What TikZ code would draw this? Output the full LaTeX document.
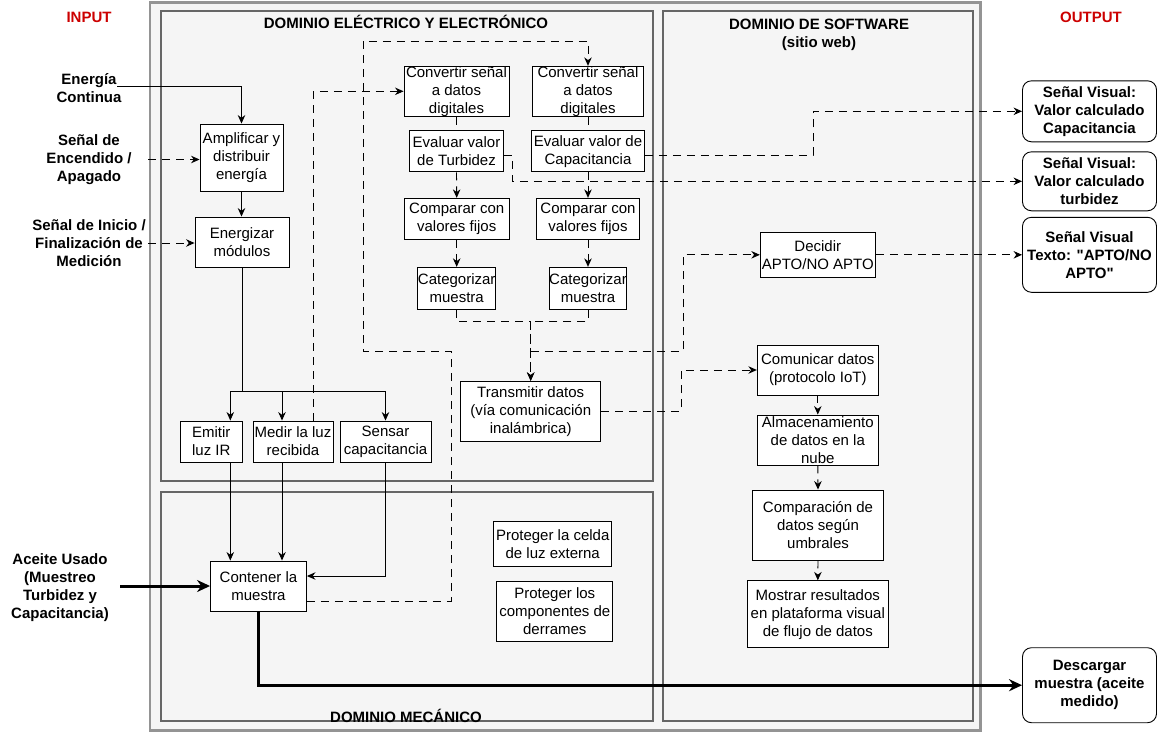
\documentclass[tikz,border=0pt]{standalone}
\usepackage{fontspec}
\setmainfont{Liberation Sans}[Ligatures=TeXOff]
\usetikzlibrary{arrows.meta}
\definecolor{inred}{RGB}{204,0,0}
\definecolor{panel}{RGB}{245,245,245}
\begin{document}
\begin{tikzpicture}[x=1pt,y=-1pt,
  every node/.style={font=\fontsize{15}{18}\selectfont, inner sep=0pt, align=center},
  blk/.style={draw=black, fill=white, line width=0.9pt, rectangle},
  obox/.style={draw=black, fill=white, line width=0.9pt, rounded corners=9pt,
    font=\fontsize{15}{18}\selectfont\bfseries},
  lbl/.style={font=\fontsize{15}{18}\selectfont\bfseries},
  ttl/.style={font=\fontsize{15}{18}\selectfont\bfseries},
  arr/.style={-{Stealth[length=8.5pt,width=7.5pt]}},
  conn/.style={line width=0.9pt, draw=black},
  dsh/.style={conn, dash pattern=on 8pt off 6pt},
  heavy/.style={line width=3pt, draw=black, -{Stealth[length=13pt,width=12pt]}},
  zone/.style={draw=black!60, fill=panel, line width=2pt},
]
\useasboundingbox (0,0) rectangle (1157,732);

% frames of the system and its three domains
\draw[draw=black!42, fill=panel, line width=2.5pt] (150,2.5) rectangle (980.5,730.5);
\draw[zone] (160.7,11) rectangle (652.7,481);
\draw[zone] (160.7,492) rectangle (652.7,720.5);
\draw[zone] (662.7,11) rectangle (973,720.5);

% headings
\node[ttl, text=inred] (tin) at (89,17) {INPUT};
\node[ttl, text=inred] (tout) at (1091,17) {OUTPUT};
\node[ttl] (tele) at (406,22) {DOMINIO ELÉCTRICO Y ELECTRÓNICO};
\node[ttl] (tsof) at (819,34.5) {DOMINIO DE SOFTWARE\\(sitio web)};
\node[ttl] (tmec) at (406,716) {DOMINIO MECÁNICO};

% inputs
\node[lbl] (ein) at (89,88) {Energía\\Continua};
\coordinate (ecn) at (117,86);
\node[lbl, minimum width=118pt] (enc) at (89,159.5) {Señal de\\Encendido /\\Apagado};
\node[lbl, minimum width=118pt] (ini) at (89,243) {Señal de Inicio /\\Finalización de\\Medición};
\node[lbl, minimum width=120pt] (ace) at (60,588) {Aceite Usado\\(Muestreo\\Turbidez y\\Capacitancia)};

% electrical and electronic domain
\node[blk, minimum width=83pt, minimum height=67pt] (amp) at (241.5,157.5) {Amplificar y\\distribuir\\energía};
\node[blk, minimum width=94pt, minimum height=50pt] (ene) at (242,242) {Energizar\\módulos};
\node[blk, minimum width=62pt, minimum height=41pt] (emi) at (211.3,441.5) {Emitir\\luz IR};
\node[blk, minimum width=80pt, minimum height=41pt] (med) at (293,441.5) {Medir la luz\\recibida};
\node[blk, minimum width=91pt, minimum height=41pt] (sen) at (385.5,441.5) {Sensar\\capacitancia};
\node[blk, minimum width=105pt, minimum height=50pt] (cv1) at (456.5,91.3) {Convertir señal\\a datos\\digitales};
\node[blk, minimum width=111pt, minimum height=50pt] (cv2) at (588,91.3) {Convertir señal\\a datos\\digitales};
\node[blk, minimum width=94pt, minimum height=41pt] (evt) at (456.5,151.3) {Evaluar valor\\de Turbidez};
\node[blk, minimum width=113pt, minimum height=41pt] (evc) at (588,151.3) {Evaluar valor de\\Capacitancia};
\node[blk, minimum width=105pt, minimum height=41pt] (cp1) at (456.7,218.8) {Comparar con\\valores fijos};
\node[blk, minimum width=103pt, minimum height=41pt] (cp2) at (588,218.8) {Comparar con\\valores fijos};
\node[blk, minimum width=75pt, minimum height=42pt] (ct1) at (456.7,288.3) {Categorizar\\muestra};
\node[blk, minimum width=75pt, minimum height=42pt] (ct2) at (588,288.3) {Categorizar\\muestra};
\node[blk, minimum width=140pt, minimum height=60pt] (tra) at (530.7,411.3) {Transmitir datos\\(vía comunicación\\inalámbrica)};

% mechanical domain
\node[blk, minimum width=96pt, minimum height=50pt] (con) at (258.5,586) {Contener la\\muestra};
\node[blk, minimum width=118pt, minimum height=45pt] (pr1) at (552.7,544) {Proteger la celda\\de luz externa};
\node[blk, minimum width=116pt, minimum height=60pt] (pr2) at (554.8,611.5) {Proteger los\\componentes de\\derrames};

% software domain
\node[blk, minimum width=115pt, minimum height=45pt] (dec) at (817.8,254.8) {Decidir\\APTO/NO APTO};
\node[blk, minimum width=121pt, minimum height=50pt] (com) at (817.8,370) {Comunicar datos\\(protocolo IoT)};
\node[blk, minimum width=121pt, minimum height=50pt] (alm) at (817.8,440) {Almacenamiento\\de datos en la\\nube};
\node[blk, minimum width=131pt, minimum height=70pt] (cmd) at (818,525) {Comparación de\\datos según\\umbrales};
\node[blk, minimum width=141pt, minimum height=67pt] (mos) at (817.8,614.3) {Mostrar resultados\\en plataforma visual\\de flujo de datos};

% outputs
\node[obox, minimum width=134pt, minimum height=61pt] (o1) at (1089.5,111.3) {Señal Visual:\\Valor calculado\\Capacitancia};
\node[obox, minimum width=134pt, minimum height=59pt] (o2) at (1089.5,181.3) {Señal Visual:\\Valor calculado\\turbidez};
\node[obox, minimum width=134pt, minimum height=75pt] (o3) at (1089.5,254.8) {Señal Visual\\Texto: "APTO/NO\\APTO"};
\node[obox, minimum width=134pt, minimum height=75pt] (o4) at (1089.5,685.2) {Descargar\\muestra (aceite\\medido)};

% energy and control inputs
\draw[conn,arr] (ecn) -| (amp.north);
\draw[dsh,arr] (enc.east) -- (amp.west |- enc.east);
\draw[dsh,arr] (ini.east) -- (ene.west |- ini.east);
\draw[conn,arr] (amp.south) -- (amp.south |- ene.north);

% power distribution to the sensing blocks
\coordinate (jn) at (242,391);
\draw[conn] (ene.south) -- (jn);
\draw[conn,arr] (jn) -| ([xshift=19pt]emi.north);
\draw[conn,arr] (jn) -| ([xshift=-11pt]med.north);
\draw[conn,arr] (jn) -| (sen.north);

% sensing blocks acting on the sample
\draw[conn,arr] ([xshift=19pt]emi.south) -- ([xshift=19pt]emi.south |- con.north);
\draw[conn,arr] ([xshift=-11pt]med.south) -- ([xshift=-11pt]med.south |- con.north);
\draw[conn,arr] (sen.south) |- ([yshift=10pt]con.east);

% signal paths into the converters
\draw[dsh,arr] ([xshift=20pt]med.north) |- (cv1.west);
\draw[dsh,arr] ([yshift=-15pt]con.east) -- (451,601) -- (451,351) -- (363,351) -- (363,41) -| (cv2.north);

% turbidity and capacitance chains
\draw[dsh] (cv1.south) -- (evt.north);
\draw[dsh,arr] (evt.south) -- (cp1.north);
\draw[dsh,arr] (cp1.south) -- (ct1.north);
\draw[dsh] (cv2.south) -- (evc.north);
\draw[dsh,arr] (evc.south) -- (cp2.north);
\draw[dsh,arr] (cp2.south) -- (ct2.north);

% categories to transmission and decision
\draw[dsh,arr] (ct1.south) -- (456.7,321) -| (tra.north);
\draw[dsh,arr] (ct2.south) -- (588,321) -| (tra.north);
\draw[dsh,arr] (530.7,351) -- (683,351) |- (dec.west);

% values to the visual outputs
\draw[dsh,arr] ([yshift=-4pt]evc.east) -- (813,155.3) |- (o1.west);
\draw[dsh,arr] ([yshift=-4pt]evt.east) -- (512,155.3) |- (o2.west);
\draw[dsh,arr] (dec.east) -- (o3.west);

% wireless link and cloud chain
\draw[dsh,arr] (tra.east) -- (681,411.3) |- (com.west);
\draw[dsh,arr] (com.south) -- (alm.north);
\draw[dsh,arr] (alm.south) -- (cmd.north);
\draw[dsh,arr] (cmd.south) -- (mos.north);

% oil flow in and out
\draw[heavy] (ace.east |- con.west) -- (con.west);
\draw[heavy] (con.south) |- (o4.west);
\end{tikzpicture}
\end{document}
